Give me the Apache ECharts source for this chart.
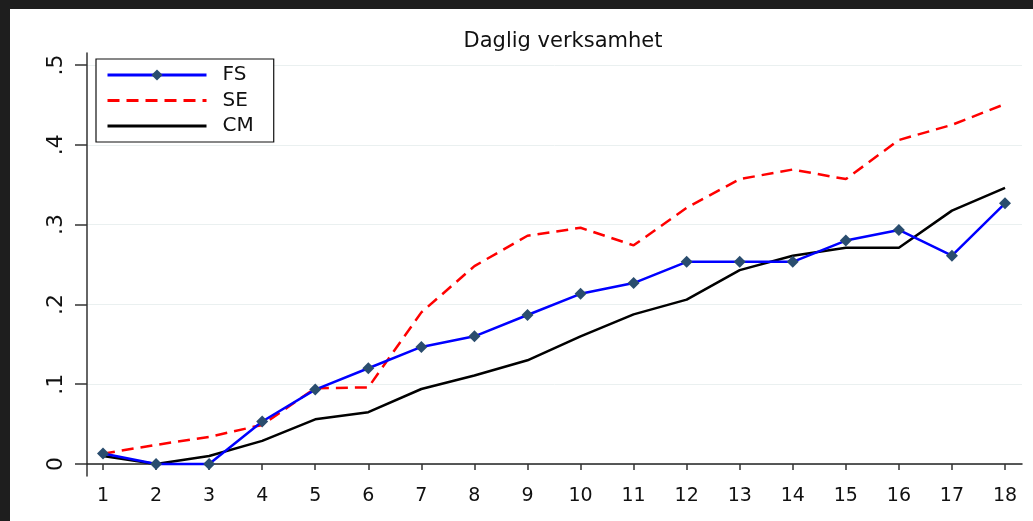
<!DOCTYPE html>
<html>
<head>
<meta charset="utf-8">
<script src="https://cdn.jsdelivr.net/npm/echarts@6/dist/echarts.min.js"></script>
<style>
html,body{margin:0;padding:0;background:#fff;}
#chart{width:1033px;height:521px;}
</style>
</head>
<body>
<div id="chart"></div>
<script>
const categories = [1,2,3,4,5,6,7,8,9,10,11,12,13,14,15,16,17,18];
const yTicks = [0, 0.1, 0.2, 0.3, 0.4, 0.5];
const fsValues = [0.0133, 0, 0, 0.0533, 0.0933, 0.12, 0.1467, 0.16, 0.1867, 0.2133, 0.2267, 0.2533, 0.2533, 0.2533, 0.28, 0.2933, 0.261, 0.3267];
const seValues = [0.013, 0.024, 0.034, 0.049, 0.095, 0.096, 0.19, 0.248, 0.286, 0.296, 0.274, 0.321, 0.357, 0.369, 0.357, 0.406, 0.425, 0.451];
const cmValues = [0.01, 0, 0.01, 0.029, 0.056, 0.065, 0.094, 0.111, 0.13, 0.16, 0.1875, 0.206, 0.243, 0.261, 0.271, 0.271, 0.3175, 0.346];

const font = 'DejaVu Sans';
const pair = arr => categories.map((c, i) => [c, arr[i]]);

const chart = echarts.init(document.getElementById('chart'), null, {renderer: 'canvas'});
chart.setOption({
  backgroundColor: '#ffffff',
  animation: false,
  title: {
    text: 'Daglig verksamhet',
    left: 558, top: 26, textAlign: 'center',
    textStyle: {fontFamily: font, fontSize: 21, fontWeight: 'normal', color: '#111'}
  },
  graphic: [
    {type: 'rect', left: 0, top: 0, shape: {width: 1033, height: 9}, style: {fill: '#1e1e1e'}, z: 100},
    {type: 'rect', left: 0, top: 0, shape: {width: 10, height: 521}, style: {fill: '#1e1e1e'}, z: 100}
  ],
  legend: {
    orient: 'vertical', left: 96, top: 59,
    data: [
      {name: 'FS'},
      {name: 'SE', itemStyle: {opacity: 0}},
      {name: 'CM', itemStyle: {opacity: 0}}
    ],
    borderColor: '#111', borderWidth: 1.2, borderRadius: 0,
    backgroundColor: '#fff',
    padding: [6, 20, 6, 10],
    itemWidth: 99, itemHeight: 14, itemGap: 5.5,
    lineStyle: {width: 3},
    textStyle: {fontFamily: font, fontSize: 20, color: '#111', lineHeight: 20, padding: [0, 0, 0, 11]}
  },
  grid: {left: 87, right: 11, top: 53, bottom: 45, containLabel: false},
  xAxis: {
    type: 'value', min: 0.6985, max: 18.32,
    axisLine: {show: true, lineStyle: {color: '#222', width: 1.5}},
    axisTick: {show: true, length: 6, lineStyle: {color: '#333', width: 1.5}, customValues: categories},
    axisLabel: {customValues: categories, margin: 11, fontFamily: font, fontSize: 19, color: '#111'},
    splitLine: {show: false}
  },
  yAxis: {
    type: 'value', min: -0.015, max: 0.515,
    axisLine: {show: true, lineStyle: {color: '#333', width: 1.5}},
    axisTick: {show: true, length: 12, lineStyle: {color: '#333', width: 1.5}, customValues: yTicks},
    axisLabel: {
      customValues: yTicks, rotate: 90, margin: 20, fontFamily: font, fontSize: 22, color: '#111',
      formatter: v => (Math.abs(v) < 1e-9 ? '0' : '.' + Math.round(v * 10))
    },
    splitLine: {show: true, lineStyle: {color: '#eaf0f0', width: 1}}
  },
  series: [
    {
      name: 'FS', type: 'line', data: pair(fsValues), z: 5,
      symbol: 'diamond', symbolSize: 12, showSymbol: true,
      lineStyle: {color: '#0000ff', width: 2.5},
      itemStyle: {color: '#2a4d6e', borderWidth: 0},
      color: '#0000ff'
    },
    {
      name: 'SE', type: 'line', data: pair(seValues), z: 3,
      symbol: 'none',
      lineStyle: {color: '#ff0000', width: 2.5, type: [12, 7]},
      color: '#ff0000'
    },
    {
      name: 'CM', type: 'line', data: pair(cmValues), z: 4,
      symbol: 'none',
      lineStyle: {color: '#000000', width: 2.5},
      color: '#000000'
    }
  ]
});
</script>
</body>
</html>
